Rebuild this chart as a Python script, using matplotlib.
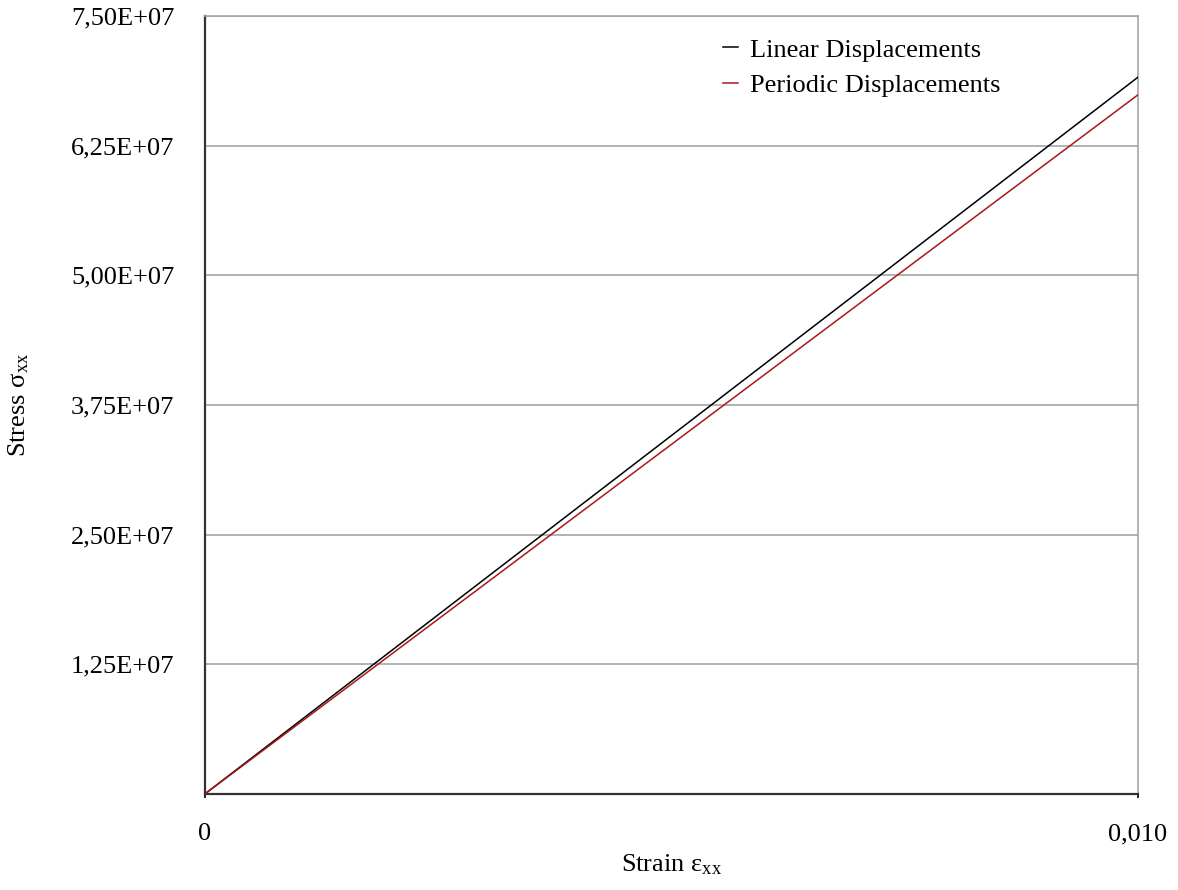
import numpy as np
import matplotlib.pyplot as plt
from matplotlib.ticker import FixedLocator, FuncFormatter

plt.rcParams['font.family'] = ['Liberation Serif', 'DejaVu Serif']
plt.rcParams['mathtext.fontset'] = 'custom'
plt.rcParams['mathtext.rm'] = 'Liberation Serif'
plt.rcParams['mathtext.it'] = 'Liberation Serif:italic'

# data
strain = [0.0, 0.010]
stress_linear = [0.0, 6.91e7]
stress_periodic = [0.0, 6.74e7]
y_ticks = [1.25e7, 2.5e7, 3.75e7, 5.0e7, 6.25e7, 7.5e7]
x_ticks = [0.0, 0.010]
x_tick_labels = ['0', '0,010']

fig = plt.figure(figsize=(11.78, 8.90), dpi=100)
ax = fig.add_axes([0.174, 0.108, 0.792, 0.874])

for y in y_ticks:
    ax.axhline(y, color='#a6a6a6', lw=1.2, zorder=1)

ax.plot(strain, stress_linear, color='black', lw=1.1, label='Linear Displacements', zorder=3)
ax.plot(strain, stress_periodic, color='#a31a1a', lw=1.1, label='Periodic Displacements', zorder=3)

ax.set_xlim(0, 0.010)
ax.set_ylim(0, 7.5e7)

ax.xaxis.set_major_locator(FixedLocator(x_ticks))
ax.set_xticklabels(x_tick_labels)
ax.yaxis.set_major_locator(FixedLocator(y_ticks))
ax.yaxis.set_major_formatter(FuncFormatter(
    lambda v, p: '{:.2E}'.format(v).replace('.', ',')))

ax.tick_params(axis='x', length=3, width=1.2, pad=18, labelsize=19)
ax.tick_params(axis='y', length=0, pad=22, labelsize=19)

for side in ['top', 'right']:
    ax.spines[side].set_color('#a6a6a6')
    ax.spines[side].set_linewidth(1.2)
for side in ['left', 'bottom']:
    ax.spines[side].set_color('#333333')
    ax.spines[side].set_linewidth(1.6)

ax.set_xlabel(r'Strain ε$_{\rm xx}$', fontsize=19, labelpad=5)
ax.set_ylabel(r'Stress σ$_{\rm xx}$', fontsize=19, labelpad=29)

ax.legend(loc='upper left', bbox_to_anchor=(0.53, 1.002), frameon=False,
          fontsize=19, handlelength=0.55, handletextpad=0.45, labelspacing=0.45)

fig.savefig('out.png', dpi=100)
